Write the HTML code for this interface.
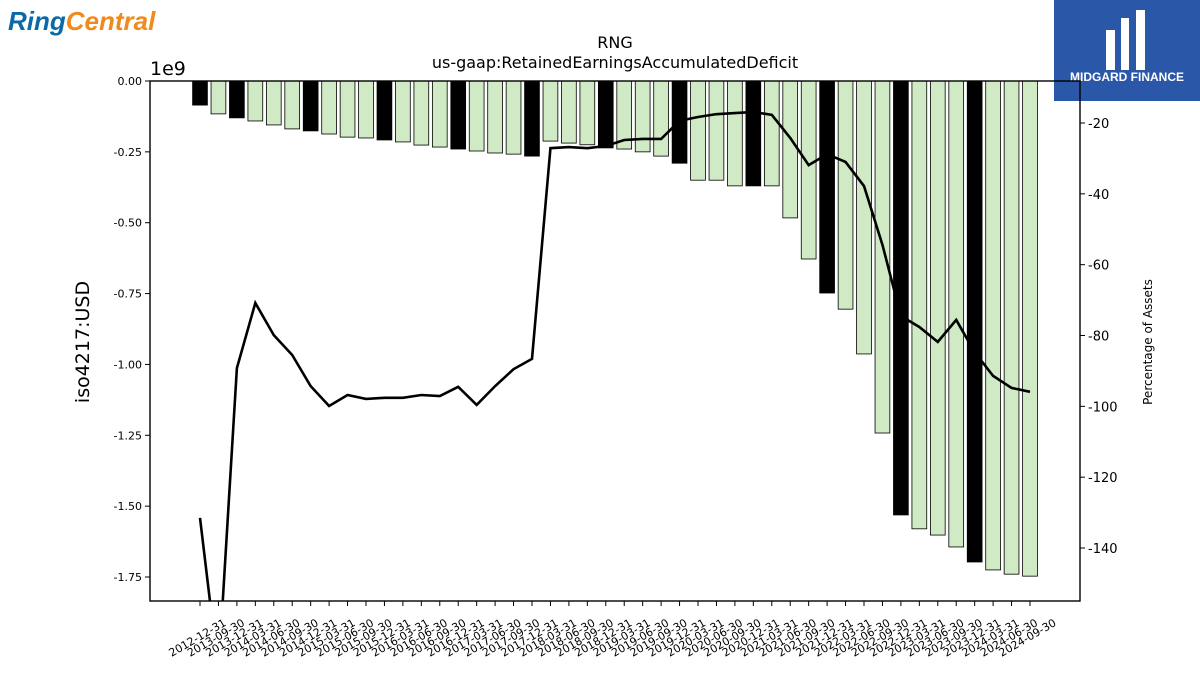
<!DOCTYPE html>
<html><head><meta charset="utf-8"><style>
body{margin:0;width:1200px;height:675px;background:#fff;overflow:hidden;font-family:"Liberation Sans","DejaVu Sans",sans-serif}
svg text{font-family:"DejaVu Sans","Liberation Sans",sans-serif}
</style></head><body>
<svg id="c" width="1200" height="675" viewBox="0 0 1200 675">
<g><text x="8" y="30" font-size="26" font-weight="bold" font-style="italic" fill="#0a6aa8" style="font-family:'Liberation Sans',sans-serif">Ring<tspan fill="#f08a1c">Central</tspan></text></g>
<g><rect x="1054" y="0" width="146" height="101" fill="#2b57a9"/>
<rect x="1106" y="30" width="9" height="40" fill="#fff"/><rect x="1121" y="18" width="8" height="52" fill="#fff"/><rect x="1136" y="10" width="9" height="60" fill="#fff"/>
<text x="1127" y="81" font-size="12" font-weight="bold" fill="#fff" text-anchor="middle" style="font-family:'Liberation Sans',sans-serif">MIDGARD FINANCE</text></g>
<text x="615" y="48" font-size="16" text-anchor="middle">RNG</text>
<text x="615" y="68" font-size="16" text-anchor="middle">us-gaap:RetainedEarningsAccumulatedDeficit</text>
<text x="150" y="75" font-size="19">1e9</text>
<text transform="translate(89,342) rotate(-90)" font-size="19" text-anchor="middle">iso4217:USD</text>
<text transform="translate(1152,342) rotate(-90)" font-size="12" text-anchor="middle">Percentage of Assets</text>
<g id="bars"></g><g id="axes"></g>
</svg>
<script>
const dates=["2012-12-31","2013-09-30","2013-12-31","2014-03-31","2014-06-30","2014-09-30","2014-12-31","2015-03-31","2015-06-30","2015-09-30","2015-12-31","2016-03-31","2016-06-30","2016-09-30","2016-12-31","2017-03-31","2017-06-30","2017-09-30","2017-12-31","2018-03-31","2018-06-30","2018-09-30","2018-12-31","2019-03-31","2019-06-30","2019-09-30","2019-12-31","2020-03-31","2020-06-30","2020-09-30","2020-12-31","2021-03-31","2021-06-30","2021-09-30","2021-12-31","2022-03-31","2022-06-30","2022-09-30","2022-12-31","2023-03-31","2023-06-30","2023-09-30","2023-12-31","2024-03-31","2024-06-30","2024-09-30"];
const deficit=[-0.085,-0.116,-0.13,-0.141,-0.155,-0.169,-0.176,-0.187,-0.198,-0.201,-0.208,-0.215,-0.226,-0.233,-0.24,-0.247,-0.254,-0.258,-0.265,-0.212,-0.219,-0.225,-0.236,-0.24,-0.25,-0.265,-0.29,-0.35,-0.35,-0.37,-0.37,-0.37,-0.483,-0.628,-0.748,-0.805,-0.963,-1.242,-1.531,-1.58,-1.602,-1.644,-1.697,-1.725,-1.74,-1.747];
const pctAssets=[-131.5,-175,-89.2,-70.8,-79.9,-85.5,-94.3,-99.9,-96.8,-97.9,-97.6,-97.6,-96.8,-97.1,-94.5,-99.6,-94.3,-89.5,-86.6,-27.1,-26.8,-27.1,-26.5,-24.8,-24.5,-24.5,-19.4,-18.3,-17.5,-17.2,-16.9,-17.7,-24.2,-31.9,-28.8,-31,-37.8,-54.4,-74.5,-77.6,-81.8,-75.6,-84.7,-91.4,-94.8,-95.9];
const leftTicks=[0,-0.25,-0.5,-0.75,-1.0,-1.25,-1.5,-1.75];
const rightTicks=[-20,-40,-60,-80,-100,-120,-140];
const NS="http://www.w3.org/2000/svg";
const L=150,R=1080,T=81,B=601;
const x=i=>200+i*(830/45);
const y=v=>T-v*283.43;
const y2=v=>123-(v+20)*3.5417;
function mk(t,a,p){const e=document.createElementNS(NS,t);for(const k in a)e.setAttribute(k,a[k]);p.appendChild(e);return e;}
const bars=document.getElementById('bars'),axes=document.getElementById('axes');
const svg=document.getElementById('c');
const clip=mk('clipPath',{id:'pc'},svg);mk('rect',{x:L,y:T,width:R-L,height:B-T},clip);
dates.forEach((d,i)=>{
 const annual=d.endsWith('12-31');
 const r=mk('rect',{x:x(i)-7.4,y:T,width:14.8,height:Math.max(0,y(deficit[i])-T),fill:annual?'#000':'#cfeac4',stroke:'#000','stroke-width':0.8},bars);
 
 
});
const pts=pctAssets.map((v,i)=>x(i)+','+y2(v)).join(' ');
const ln=mk('polyline',{points:pts,fill:'none',stroke:'#000','stroke-width':2.6,'clip-path':'url(#pc)'},bars);


const fr=mk('rect',{x:L,y:T,width:R-L,height:B-T,fill:'none',stroke:'#000','stroke-width':1.4},axes);


leftTicks.forEach(v=>{
 mk('line',{x1:L-5,x2:L,y1:y(v),y2:y(v),stroke:'#000'},axes);
 const t=mk('text',{x:L-8,y:y(v)+4,'font-size':11,'text-anchor':'end'},axes);t.textContent=v.toFixed(2);
 
 
});
rightTicks.forEach(v=>{
 mk('line',{x1:R,x2:R+5,y1:y2(v),y2:y2(v),stroke:'#000'},axes);
 const t=mk('text',{x:R+8,y:y2(v)+5,'font-size':13},axes);t.textContent=v;
 
 
});
dates.forEach((d,i)=>{
 mk('line',{x1:x(i),x2:x(i),y1:B,y2:B+5,stroke:'#000'},axes);
 const t=mk('text',{transform:`translate(${x(i)+27},${B+24}) rotate(-30)`,'font-size':11,'text-anchor':'end'},axes);t.textContent=d;
 
 
});
</script>
</body></html>
